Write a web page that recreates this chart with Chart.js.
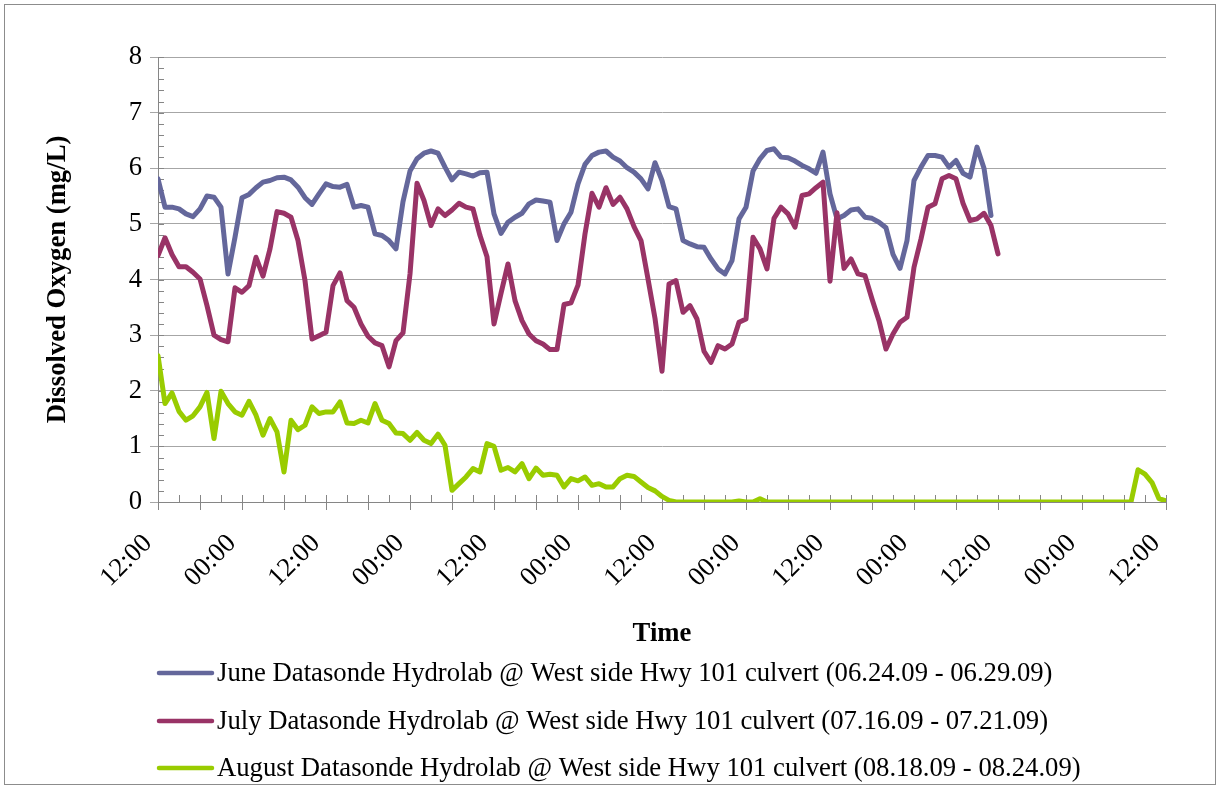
<!DOCTYPE html>
<html>
<head>
<meta charset="utf-8">
<script src="https://cdn.jsdelivr.net/npm/chart.js@4.4.1/dist/chart.umd.min.js"></script>
<style>
  html, body { margin: 0; padding: 0; background: #ffffff; }
  #wrap { width: 1220px; height: 788px; position: relative; }
</style>
</head>
<body>
<div id="wrap"><canvas id="chart" width="1220" height="788"></canvas></div>
<script>
// Time axis labels, one every 12 hours starting at noon
const tickLabels = ['12:00', '00:00', '12:00', '00:00', '12:00', '00:00', '12:00',
                    '00:00', '12:00', '00:00', '12:00', '00:00', '12:00'];

const seriesNames = [
  'June Datasonde Hydrolab @ West side Hwy 101 culvert (06.24.09 - 06.29.09)',
  'July Datasonde Hydrolab @ West side Hwy 101 culvert (07.16.09 - 07.21.09)',
  'August Datasonde Hydrolab @ West side Hwy 101 culvert (08.18.09 - 08.24.09)'
];

// Hourly dissolved oxygen readings (mg/L), hour 0 = 12:00 on the first day
const juneDO = [
  5.81, 5.30, 5.30, 5.27, 5.18, 5.13, 5.27, 5.50, 5.48, 5.30,
  4.10, 4.76, 5.47, 5.53, 5.65, 5.75, 5.78, 5.83, 5.84, 5.79,
  5.66, 5.47, 5.35, 5.54, 5.72, 5.67, 5.66, 5.71, 5.30, 5.33,
  5.30, 4.82, 4.79, 4.70, 4.55, 5.40, 5.95, 6.17, 6.27, 6.31,
  6.27, 6.02, 5.79, 5.93, 5.90, 5.86, 5.92, 5.93, 5.18, 4.83,
  5.03, 5.12, 5.19, 5.36, 5.43, 5.41, 5.39, 4.70, 5.00, 5.21,
  5.72, 6.07, 6.23, 6.29, 6.31, 6.20, 6.13, 6.01, 5.93, 5.81,
  5.63, 6.10, 5.78, 5.31, 5.27, 4.70, 4.64, 4.59, 4.58, 4.37,
  4.19, 4.10, 4.34, 5.09, 5.30, 5.95, 6.17, 6.32, 6.35, 6.20,
  6.19, 6.13, 6.05, 5.99, 5.91, 6.29, 5.54, 5.09, 5.15, 5.25,
  5.27, 5.12, 5.10, 5.03, 4.93, 4.45, 4.20, 4.70, 5.78, 6.02,
  6.23, 6.23, 6.20, 6.02, 6.14, 5.91, 5.84, 6.38, 6.00, 5.15
];

const julyDO = [
  4.43, 4.75, 4.45, 4.23, 4.23, 4.13, 4.01, 3.53, 3.00, 2.92,
  2.88, 3.85, 3.77, 3.89, 4.40, 4.06, 4.55, 5.22, 5.19, 5.12,
  4.70, 3.98, 2.93, 2.99, 3.05, 3.89, 4.12, 3.62, 3.50, 3.20,
  2.98, 2.86, 2.81, 2.43, 2.90, 3.04, 4.10, 5.73, 5.42, 4.97,
  5.27, 5.15, 5.25, 5.37, 5.30, 5.27, 4.79, 4.41, 3.20, 3.75,
  4.28, 3.62, 3.26, 3.02, 2.90, 2.84, 2.74, 2.74, 3.55, 3.58,
  3.90, 4.82, 5.55, 5.30, 5.65, 5.35, 5.48, 5.27, 4.95, 4.70,
  4.01, 3.30, 2.35, 3.92, 3.98, 3.41, 3.53, 3.29, 2.71, 2.51,
  2.81, 2.75, 2.84, 3.23, 3.29, 4.76, 4.55, 4.19, 5.10, 5.30,
  5.18, 4.94, 5.51, 5.54, 5.65, 5.75, 3.97, 5.20, 4.20, 4.37,
  4.10, 4.07, 3.65, 3.26, 2.75, 3.02, 3.23, 3.32, 4.22, 4.73,
  5.30, 5.36, 5.81, 5.87, 5.81, 5.37, 5.06, 5.09, 5.19, 4.97,
  4.46
];

const augustDO = [
  2.63, 1.77, 1.96, 1.63, 1.47, 1.55, 1.71, 1.97, 1.14, 1.99,
  1.77, 1.62, 1.56, 1.81, 1.56, 1.20, 1.50, 1.26, 0.54, 1.47,
  1.30, 1.38, 1.71, 1.59, 1.62, 1.62, 1.80, 1.42, 1.41, 1.47,
  1.42, 1.77, 1.47, 1.41, 1.24, 1.23, 1.11, 1.25, 1.11, 1.05,
  1.22, 1.02, 0.21, 0.33, 0.45, 0.60, 0.54, 1.05, 1.00, 0.57,
  0.62, 0.54, 0.69, 0.42, 0.61, 0.48, 0.50, 0.48, 0.27, 0.42,
  0.38, 0.45, 0.30, 0.33, 0.27, 0.27, 0.42, 0.48, 0.46, 0.36,
  0.26, 0.20, 0.10, 0.03, 0.00, 0.00, 0.00, 0.00, 0.00, 0.00,
  0.00, 0.00, 0.00, 0.02, 0.00, 0.00, 0.06, 0.00, 0.00, 0.00,
  0.00, 0.00, 0.00, 0.00, 0.00, 0.00, 0.00, 0.00, 0.00, 0.00,
  0.00, 0.00, 0.00, 0.00, 0.00, 0.00, 0.00, 0.00, 0.00, 0.00,
  0.00, 0.00, 0.00, 0.00, 0.00, 0.00, 0.00, 0.00, 0.00, 0.00,
  0.00, 0.00, 0.00, 0.00, 0.00, 0.00, 0.00, 0.00, 0.00, 0.00,
  0.00, 0.00, 0.00, 0.00, 0.00, 0.00, 0.00, 0.00, 0.00, 0.00,
  0.58, 0.50, 0.35, 0.06, 0.02
];

const seriesColors = ['#64679b', '#993366', '#99cc00'];
const serif = '"Liberation Serif", "Times New Roman", serif';
const fontSize = 26.7;

const toPoints = (values) => values.map((v, h) => ({ x: h, y: v }));

// White page with a thin grey frame around the whole chart
const framePlugin = {
  id: 'frame',
  beforeDraw(chart) {
    const ctx = chart.ctx;
    ctx.save();
    ctx.fillStyle = '#ffffff';
    ctx.fillRect(0, 0, chart.width, chart.height);
    ctx.strokeStyle = '#8c8c8c';
    ctx.lineWidth = 1;
    ctx.strokeRect(4.5, 4.5, chart.width - 9, chart.height - 8);
    ctx.restore();
  }
};

// Inside tick marks: every 3 h on the time axis, every 0.2 mg/L on the value axis
const innerTicksPlugin = {
  id: 'innerTicks',
  beforeDatasetsDraw(chart) {
    const { ctx, scales: { x, y } } = chart;
    ctx.save();
    ctx.strokeStyle = '#868686';
    ctx.lineWidth = 1;
    ctx.beginPath();
    for (let h = x.min; h <= x.max; h += 3) {
      const px = Math.round(x.getPixelForValue(h)) + 0.5;
      ctx.moveTo(px, y.bottom);
      ctx.lineTo(px, y.bottom - 7);
    }
    for (let k = 0; k <= (y.max - y.min) * 5; k++) {
      const py = Math.round(y.getPixelForValue(y.min + k * 0.2)) + 0.5;
      ctx.moveTo(x.left, py);
      ctx.lineTo(x.left + 6, py);
    }
    ctx.stroke();
    ctx.restore();
  }
};

// Stacked legend rows, left-aligned with the plot area
const stackedLegendPlugin = {
  id: 'stackedLegend',
  afterDraw(chart, args, opts) {
    const ctx = chart.ctx;
    const x0 = chart.chartArea.left;
    ctx.save();
    ctx.font = opts.font;
    ctx.textBaseline = 'middle';
    chart.data.datasets.forEach((ds, i) => {
      const yy = opts.rows[i];
      ctx.strokeStyle = ds.borderColor;
      ctx.lineWidth = 4.5;
      ctx.lineCap = 'round';
      ctx.beginPath();
      ctx.moveTo(x0 + 1, yy);
      ctx.lineTo(x0 + opts.lineLength, yy);
      ctx.stroke();
      ctx.fillStyle = '#000000';
      ctx.fillText(ds.label, x0 + opts.lineLength + 5, yy + 1);
    });
    ctx.restore();
  }
};

const lineStyle = {
  borderWidth: 5,
  pointRadius: 0,
  pointHoverRadius: 0,
  tension: 0,
  fill: false,
  borderJoinStyle: 'round',
  borderCapStyle: 'round'
};

new Chart(document.getElementById('chart'), {
  type: 'line',
  data: {
    datasets: [
      { label: seriesNames[0], data: toPoints(juneDO), borderColor: seriesColors[0], order: 3, ...lineStyle },
      { label: seriesNames[1], data: toPoints(julyDO), borderColor: seriesColors[1], order: 2, ...lineStyle },
      { label: seriesNames[2], data: toPoints(augustDO), borderColor: seriesColors[2], order: 1, ...lineStyle }
    ]
  },
  options: {
    responsive: false,
    animation: false,
    devicePixelRatio: 1,
    layout: { padding: { top: 57, right: 54, bottom: 130, left: 0 } },
    plugins: {
      legend: { display: false },
      tooltip: { enabled: false },
      stackedLegend: { rows: [673, 721, 768], lineLength: 54, font: fontSize + 'px ' + serif }
    },
    scales: {
      x: {
        type: 'linear',
        min: 0,
        max: (tickLabels.length - 1) * 12,
        afterFit(scale) { scale.height = 156; },
        ticks: {
          stepSize: 6,
          autoSkip: false,
          maxRotation: 45,
          minRotation: 45,
          padding: 18,
          labelOffset: -10,
          color: '#000000',
          font: { family: serif, size: fontSize },
          callback: (v) => (v % 12 === 0 ? tickLabels[v / 12] : '')
        },
        grid: { drawOnChartArea: false, drawTicks: true, tickLength: 8, color: '#868686' },
        border: { display: true, color: '#868686', width: 1 },
        title: {
          display: true,
          text: 'Time',
          color: '#000000',
          font: { family: serif, size: fontSize, weight: 'bold' },
          padding: { top: 0, bottom: 8 }
        }
      },
      y: {
        min: 0,
        max: 8,
        afterFit(scale) { scale.width = 158; },
        ticks: {
          stepSize: 1,
          padding: 8,
          color: '#000000',
          font: { family: serif, size: fontSize }
        },
        grid: { color: '#a6a6a6', tickLength: 8, drawTicks: true },
        border: { display: true, color: '#868686', width: 1 },
        title: {
          display: true,
          text: 'Dissolved Oxygen (mg/L)',
          color: '#000000',
          font: { family: serif, size: fontSize, weight: 'bold' },
          padding: { top: 42, bottom: 0 }
        }
      }
    }
  },
  plugins: [framePlugin, innerTicksPlugin, stackedLegendPlugin]
});
</script>
</body>
</html>
